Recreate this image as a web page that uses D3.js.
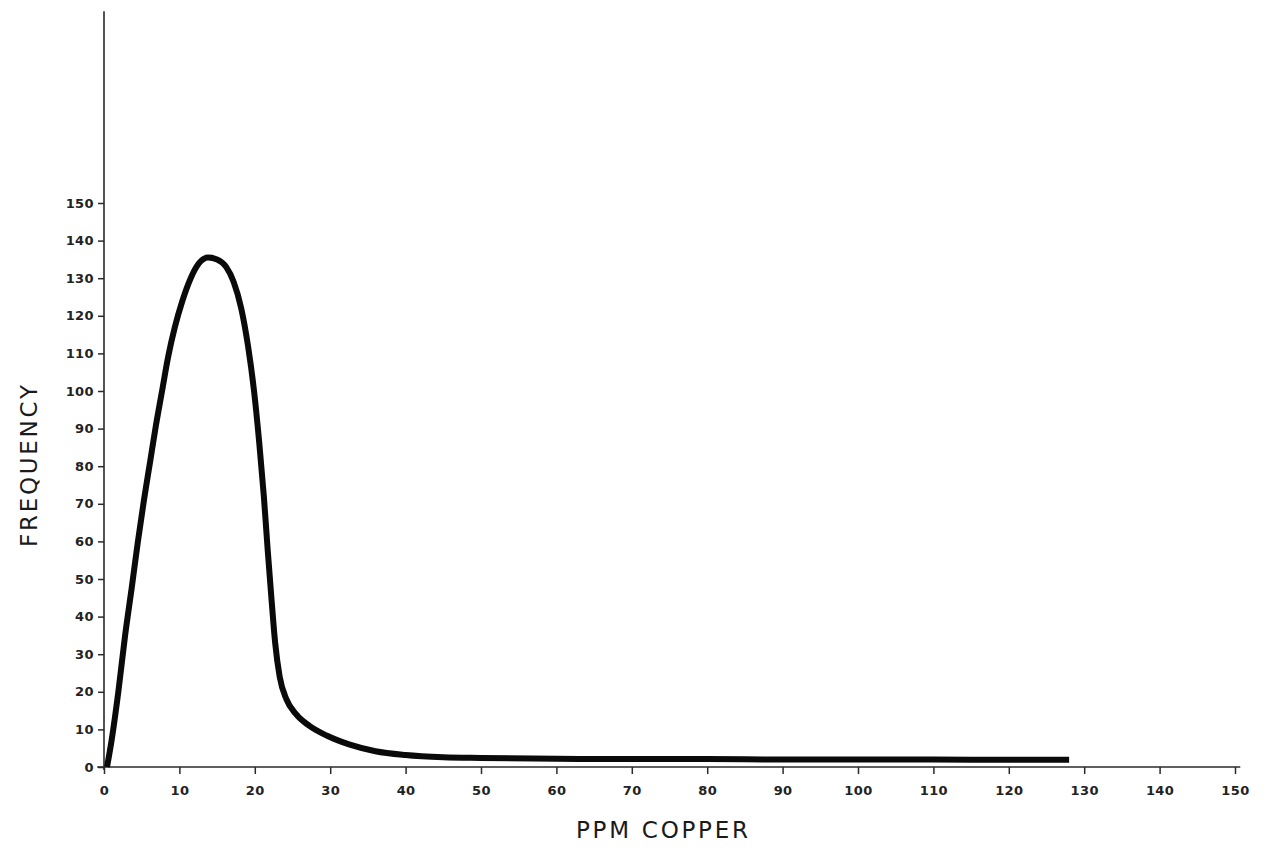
<!DOCTYPE html>
<html>
<head>
<meta charset="utf-8">
<script src="https://cdn.jsdelivr.net/npm/d3@7"></script>
<style>
  html, body { margin: 0; padding: 0; background: #fff; }
  svg { display: block; }
</style>
</head>
<body>
<svg id="chart" width="1266" height="852"></svg>
<script>
// ---- data ----
const ppmCopper = [0.4, 1.0, 1.9, 2.8, 3.7, 4.5, 5.3, 6.1, 6.9, 7.7, 8.5, 9.4, 10.4, 11.5, 12.6, 13.8, 15.0, 16.2, 17.2, 18.2, 19.1, 19.9, 20.6, 21.2, 21.7, 22.2, 22.7, 23.3, 24.2, 25.5, 27.2, 29.6, 32.5, 36.0, 40, 45, 50, 60, 70, 80, 90, 100, 110, 120, 128];
const frequency = [0, 7, 20, 35, 48, 60, 71, 81, 91, 100, 109, 117, 124, 130, 134, 135.5, 135, 133, 129, 122, 112, 100, 86, 72, 58, 45, 33, 24, 18, 14, 11, 8.3, 6.0, 4.2, 3.2, 2.6, 2.4, 2.2, 2.1, 2.1, 2.0, 2.0, 2.0, 1.9, 1.9];
const xTickValues = [0, 10, 20, 30, 40, 50, 60, 70, 80, 90, 100, 110, 120, 130, 140, 150];
const yTickValues = [0, 10, 20, 30, 40, 50, 60, 70, 80, 90, 100, 110, 120, 130, 140, 150];
const xTitle = "PPM COPPER";
const yTitle = "FREQUENCY";

// ---- layout ----
const svg = d3.select("#chart");
const x = d3.scaleLinear().domain([0, 150]).range([104, 1235]);
const y = d3.scaleLinear().domain([0, 150]).range([767, 203]);
const axisColor = "#2a2a2a";
const font = "'DejaVu Sans', sans-serif";

function styleTicks(g) {
  g.select(".domain").remove();
  g.selectAll(".tick line").attr("stroke", axisColor).attr("stroke-width", 1.5);
  g.selectAll(".tick text")
    .attr("fill", "#222")
    .style("font-family", font)
    .style("font-size", "13px")
    .style("font-weight", "bold")
    .style("letter-spacing", "0.4px");
}

// y axis
const gy = svg.append("g")
  .attr("transform", `translate(${x(0)},0)`)
  .call(d3.axisLeft(y).tickValues(yTickValues).tickSize(6).tickPadding(4).tickFormat(d3.format("d")));
styleTicks(gy);
svg.append("line")
  .attr("x1", x(0)).attr("x2", x(0))
  .attr("y1", y(-0.8)).attr("y2", y(201))
  .attr("stroke", axisColor).attr("stroke-width", 1.6);

// x axis
const gx = svg.append("g")
  .attr("transform", `translate(0,${y(0)})`)
  .call(d3.axisBottom(x).tickValues(xTickValues).tickSize(7).tickPadding(12).tickFormat(d3.format("d")));
styleTicks(gx);
svg.append("line")
  .attr("x1", x(-0.9)).attr("x2", x(150.7))
  .attr("y1", y(0)).attr("y2", y(0))
  .attr("stroke", axisColor).attr("stroke-width", 1.6);

// curve
const pts = ppmCopper.map((v, i) => [v, frequency[i]]);
const line = d3.line()
  .x(d => x(d[0]))
  .y(d => y(d[1]))
  .curve(d3.curveMonotoneX);
svg.append("path")
  .datum(pts)
  .attr("d", line)
  .attr("fill", "none")
  .attr("stroke", "#0a0a0a")
  .attr("stroke-width", 6)
  .attr("stroke-linecap", "butt")
  .attr("stroke-linejoin", "round");

// titles
svg.append("text")
  .attr("x", 576).attr("y", 838)
  .attr("textLength", 172).attr("lengthAdjust", "spacing")
  .attr("fill", "#1a1a1a")
  .style("font-family", font)
  .style("font-size", "23px")
  .text(xTitle);

svg.append("text")
  .attr("transform", "translate(37,466) rotate(-90)")
  .attr("text-anchor", "middle")
  .attr("textLength", 162).attr("lengthAdjust", "spacing")
  .attr("fill", "#1a1a1a")
  .style("font-family", font)
  .style("font-size", "23px")
  .text(yTitle);
</script>
</body>
</html>
